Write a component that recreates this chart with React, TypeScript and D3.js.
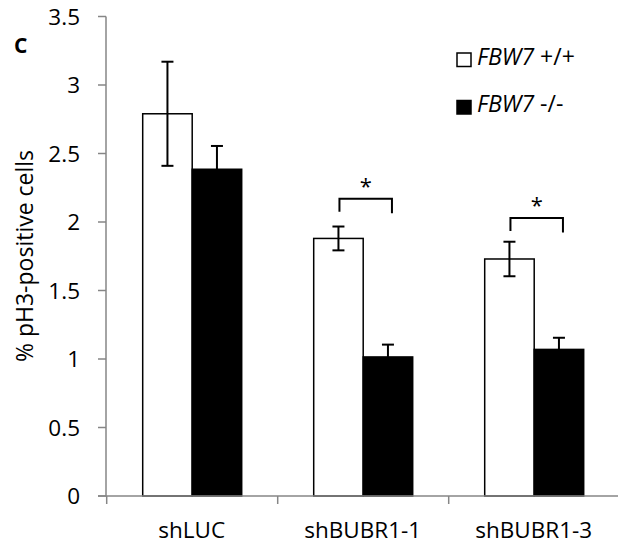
import React from "react";
import * as d3 from "d3";

const categories = ["shLUC", "shBUBR1-1", "shBUBR1-3"];
const series = ["FBW7 +/+", "FBW7 -/-"];
const wildType = [2.79, 1.88, 1.73];
const wildTypeErr = [0.38, 0.087, 0.126];
const knockout = [2.385, 1.015, 1.07];
const knockoutErr = [0.17, 0.09, 0.085];
const yTicks = [0, 0.5, 1, 1.5, 2, 2.5, 3, 3.5];
const sigBracket = [null, 2.17, 2.03];
const FONT = "'Open Sans', 'DejaVu Sans', sans-serif";

export default function App() {
  const W = 618, H = 546;
  const y = d3.scaleLinear().domain([0, 3.5]).range([496, 16.5]);
  const x = d3.scaleBand().domain(categories).range([106.7, 619.7]).padding(0);
  const inner = d3.scaleBand().domain(series).range([36, 135]).padding(0);
  const bw = inner.bandwidth();
  const axisColor = "#868686";
  const boundaries = [106.7, 277.7, 448.7];

  const groups = categories.map((c, i) => ({
    c,
    bars: [
      { s: series[0], v: wildType[i], e: wildTypeErr[i], fill: "#fff" },
      { s: series[1], v: knockout[i], e: knockoutErr[i], fill: "#000" },
    ],
  }));

  return (
    <svg width={W} height={H} style={{ position: "absolute", left: 0, top: 0, background: "#fff" }} fontFamily={FONT}>
      <rect x={0} y={0} width={W} height={H} fill="#fff" />
      {groups.map((g) => (
        <g key={g.c}>
          {g.bars.map((b) => {
            const bx = (x(g.c) as number) + (inner(b.s) as number);
            return (
              <rect key={b.s} x={bx} y={y(b.v)} width={bw} height={y(0) - y(b.v)} fill={b.fill} stroke="#000" strokeWidth={1.5} />
            );
          })}
        </g>
      ))}
      {groups.map((g) => (
        <g key={g.c + "e"}>
          {g.bars.map((b) => {
            const cx = (x(g.c) as number) + (inner(b.s) as number) + bw / 2;
            const y1 = y(b.v + b.e), y2 = y(b.v - b.e);
            return (
              <g key={b.s} stroke="#000" strokeWidth={2}>
                <line x1={cx} x2={cx} y1={y1} y2={y2} />
                <line x1={cx - 6} x2={cx + 6} y1={y1} y2={y1} />
                <line x1={cx - 6} x2={cx + 6} y1={y2} y2={y2} />
              </g>
            );
          })}
        </g>
      ))}
      <line x1={106} x2={106} y1={y(3.5)} y2={y(0)} stroke={axisColor} strokeWidth={1.5} />
      {yTicks.map((t) => (
        <g key={t}>
          <line x1={98} x2={106} y1={y(t)} y2={y(t)} stroke={axisColor} strokeWidth={1.5} />
          <text x={80} y={y(t)} dy="0.36em" textAnchor="end" fontSize={22.5} fill="#000">{t}</text>
        </g>
      ))}
      <line x1={98} x2={W} y1={y(0)} y2={y(0)} stroke={axisColor} strokeWidth={1.5} />
      {boundaries.map((bx) => (
        <line key={bx} x1={bx} x2={bx} y1={y(0)} y2={y(0) + 8} stroke={axisColor} strokeWidth={1.5} />
      ))}
      {categories.map((c) => (
        <text key={c} x={(x(c) as number) + x.bandwidth() / 2 - 0.5} y={538} textAnchor="middle" fontSize={22.5} fill="#000">{c}</text>
      ))}
      <text transform={`translate(33,256) rotate(-90)`} textAnchor="middle" fontSize={23} fill="#000">% pH3-positive cells</text>
      <text x={14} y={53} fontSize={21} fontWeight="bold" fill="#000">C</text>
      {categories.map((c, i) => {
        const lvl = sigBracket[i];
        if (lvl == null) return null;
        const x1 = (x(c) as number) + (inner(series[0]) as number) + bw / 2 + 1;
        const x2 = (x(c) as number) + (inner(series[1]) as number) + bw / 2 + 4;
        const yt = y(lvl);
        return (
          <g key={c + "s"}>
            <path d={`M${x1},${yt + 13}V${yt}H${x2}V${yt + 14.5}`} fill="none" stroke="#000" strokeWidth={2} />
            <text x={(x1 + x2) / 2} y={yt - 5} textAnchor="middle" fontSize={22} fill="#000">*</text>
          </g>
        );
      })}
      {series.map((s, i) => {
        const ly = 59.5 + i * 47.5;
        const [name, geno] = s.split(" ");
        return (
          <g key={s}>
            <rect x={457} y={ly - 6.5} width={14} height={13.5} fill={i === 0 ? "#fff" : "#000"} stroke="#000" strokeWidth={1.5} />
            <text x={477} y={ly + 5} fontSize={23} fill="#000">
              <tspan fontStyle="italic">{name}</tspan>
              <tspan>{" " + geno}</tspan>
            </text>
          </g>
        );
      })}
    </svg>
  );
}
